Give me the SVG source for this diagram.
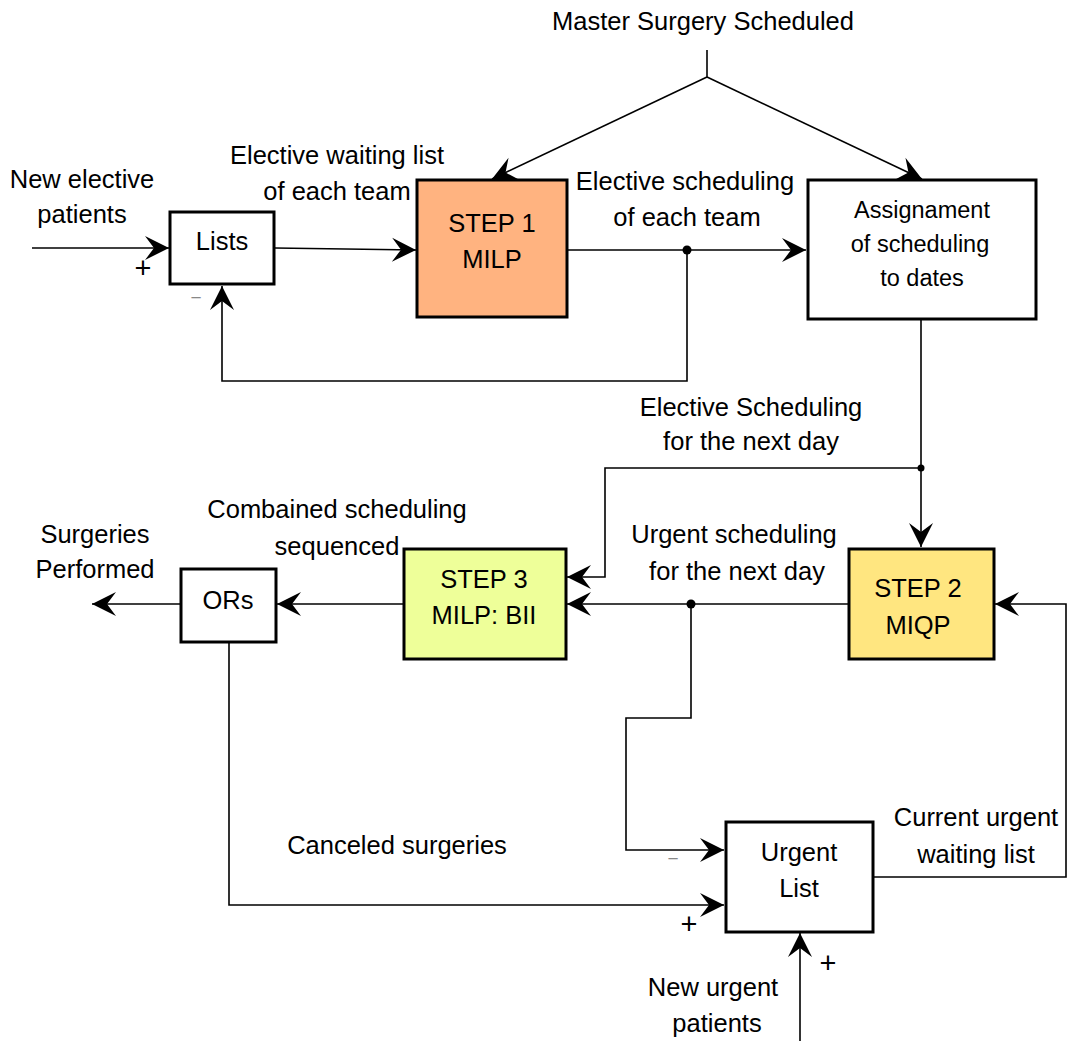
<svg xmlns="http://www.w3.org/2000/svg" width="1067" height="1041" viewBox="0 0 1067 1041">
  <style>
    text { font-family: "Liberation Sans", Arial, sans-serif; font-size: 25.5px; fill: #000; text-anchor: middle; }
    .box { stroke: #000; stroke-width: 3; }
    .wire { fill: none; stroke: #000; stroke-width: 1.6; }
    .small { font-size: 23.5px; }
    .sign { font-size: 29px; }
    .minus { fill: #888; font-size: 19px; }
  </style>
  <defs>
    <marker id="arrow" viewBox="-26 -13 28 26" refX="0" refY="0" markerWidth="28" markerHeight="26" markerUnits="userSpaceOnUse" orient="auto">
      <path d="M0,0 L-24,-12 L-15,0 L-24,12 Z" fill="#000"/>
    </marker>
  </defs>

  <rect width="1067" height="1041" fill="#fff"/>

  <!-- connectors -->
  <g id="connectors">
    <!-- master surgery schedule fan-out -->
    <path class="wire" d="M707,50 L707,77"/>
    <path class="wire" d="M707,77 L492,179" marker-end="url(#arrow)"/>
    <path class="wire" d="M707,77 L922,179" marker-end="url(#arrow)"/>
    <!-- new elective patients into Lists -->
    <path class="wire" d="M32,248 L169,248" marker-end="url(#arrow)"/>
    <!-- Lists to STEP 1 -->
    <path class="wire" d="M275,248 L416,250" marker-end="url(#arrow)"/>
    <!-- STEP 1 to assignment -->
    <path class="wire" d="M567,250 L806,250" marker-end="url(#arrow)"/>
    <!-- feedback to Lists -->
    <path class="wire" d="M687,250 L687,381 L222,381 L222,286" marker-end="url(#arrow)"/>
    <circle cx="687" cy="250" r="4.5" fill="#000"/>
    <!-- assignment to STEP 2 -->
    <path class="wire" d="M921,319 L921,547" marker-end="url(#arrow)"/>
    <!-- elective schedule for next day to STEP 3 -->
    <path class="wire" d="M921,468 L605,468 L605,577 L567,577" marker-end="url(#arrow)"/>
    <circle cx="921" cy="468" r="3.5" fill="#000"/>
    <!-- STEP 2 to STEP 3 -->
    <path class="wire" d="M848,604 L567,604" marker-end="url(#arrow)"/>
    <circle cx="691" cy="604" r="4.5" fill="#000"/>
    <!-- urgent schedule back to Urgent List -->
    <path class="wire" d="M691,604 L691,718 L626,718 L626,850 L724,850" marker-end="url(#arrow)"/>
    <!-- STEP 3 to ORs -->
    <path class="wire" d="M403,604 L277,604" marker-end="url(#arrow)"/>
    <!-- surgeries performed -->
    <path class="wire" d="M180,604 L92,604" marker-end="url(#arrow)"/>
    <!-- canceled surgeries -->
    <path class="wire" d="M229,642 L229,905 L724,905" marker-end="url(#arrow)"/>
    <!-- current urgent waiting list to STEP 2 -->
    <path class="wire" d="M873,877 L1066,877 L1066,604 L995,604" marker-end="url(#arrow)"/>
    <!-- new urgent patients -->
    <path class="wire" d="M800,1041 L800,933" marker-end="url(#arrow)"/>
  </g>

  <!-- nodes -->
  <g id="lists">
    <rect class="box" x="170" y="212" width="104" height="72" fill="#fff"/>
    <text x="222" y="250">Lists</text>
  </g>
  <g id="step1">
    <rect class="box" x="417" y="180" width="150" height="137" fill="#FFB380"/>
    <text x="492" y="232">STEP 1</text>
    <text x="492" y="268">MILP</text>
  </g>
  <g id="assignment">
    <rect class="box" x="808" y="180" width="228" height="139" fill="#fff"/>
    <text class="small" x="922" y="218">Assignament</text>
    <text class="small" x="920" y="252">of scheduling</text>
    <text class="small" x="922" y="286">to dates</text>
  </g>
  <g id="step2">
    <rect class="box" x="849" y="549" width="145" height="110" fill="#FFE680"/>
    <text x="918" y="597">STEP 2</text>
    <text x="918" y="634">MIQP</text>
  </g>
  <g id="step3">
    <rect class="box" x="404" y="549" width="162" height="110" fill="#EEFF99"/>
    <text x="484" y="588">STEP 3</text>
    <text x="484" y="624">MILP: BII</text>
  </g>
  <g id="ors">
    <rect class="box" x="181" y="569" width="95" height="73" fill="#fff"/>
    <text x="228" y="609">ORs</text>
  </g>
  <g id="urgent-list">
    <rect class="box" x="726" y="822" width="147" height="110" fill="#fff"/>
    <text x="799" y="861">Urgent</text>
    <text x="799" y="897">List</text>
  </g>

  <!-- labels -->
  <g id="labels">
    <text x="703" y="30">Master Surgery Scheduled</text>
    <text x="82" y="188">New elective</text>
    <text x="82" y="223">patients</text>
    <text x="337" y="164">Elective waiting list</text>
    <text x="337" y="200">of each team</text>
    <text x="685" y="190">Elective scheduling</text>
    <text x="687" y="226">of each team</text>
    <text x="751" y="416">Elective Scheduling</text>
    <text x="751" y="450">for the next day</text>
    <text x="337" y="518">Combained scheduling</text>
    <text x="337" y="555">sequenced</text>
    <text x="95" y="543">Surgeries</text>
    <text x="95" y="578">Performed</text>
    <text x="734" y="543">Urgent scheduling</text>
    <text x="737" y="580">for the next day</text>
    <text x="397" y="854">Canceled surgeries</text>
    <text x="976" y="826">Current urgent</text>
    <text x="976" y="863">waiting list</text>
    <text x="713" y="996">New urgent</text>
    <text x="717" y="1032">patients</text>
    <text class="sign" x="143" y="278">+</text>
    <text class="minus" x="196" y="304">−</text>
    <text class="minus" x="673" y="865">−</text>
    <text class="sign" x="689" y="934">+</text>
    <text class="sign" x="828" y="973">+</text>
  </g>
</svg>
